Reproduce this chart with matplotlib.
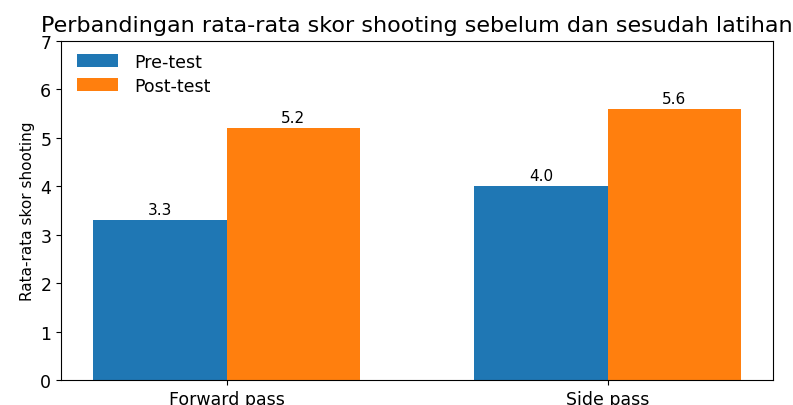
import numpy as np
import matplotlib
matplotlib.use("Agg")
import matplotlib.pyplot as plt

kategori = ["Forward pass", "Side pass"]
pre_test = [3.3, 4.0]
post_test = [5.2, 5.6]

x = np.arange(len(kategori))
lebar = 0.35

fig = plt.figure(figsize=(7.93, 4.06), dpi=100)
ax = fig.add_axes([0.077, 0.0616, 0.898, 0.835])

b1 = ax.bar(x - lebar / 2, pre_test, lebar, label="Pre-test", color="#1f77b4")
b2 = ax.bar(x + lebar / 2, post_test, lebar, label="Post-test", color="#ff7f0e")

ax.bar_label(b1, fmt="%.1f", padding=2, fontsize=11)
ax.bar_label(b2, fmt="%.1f", padding=2, fontsize=11)

ax.set_ylim(0, 7)
ax.set_xticks(x)
ax.set_xticklabels(kategori, fontsize=12.5)
ax.tick_params(axis="y", labelsize=12.5)
ax.set_ylabel("Rata-rata skor shooting", fontsize=11)
ax.set_title("Perbandingan rata-rata skor shooting sebelum dan sesudah latihan",
             fontsize=16, pad=7.5)
ax.legend(loc="upper left", bbox_to_anchor=(0, 1.012), frameon=False, fontsize=12.5,
          labelspacing=0.35, handlelength=2.4, handletextpad=0.9)

fig.savefig("out.png", dpi=100)
